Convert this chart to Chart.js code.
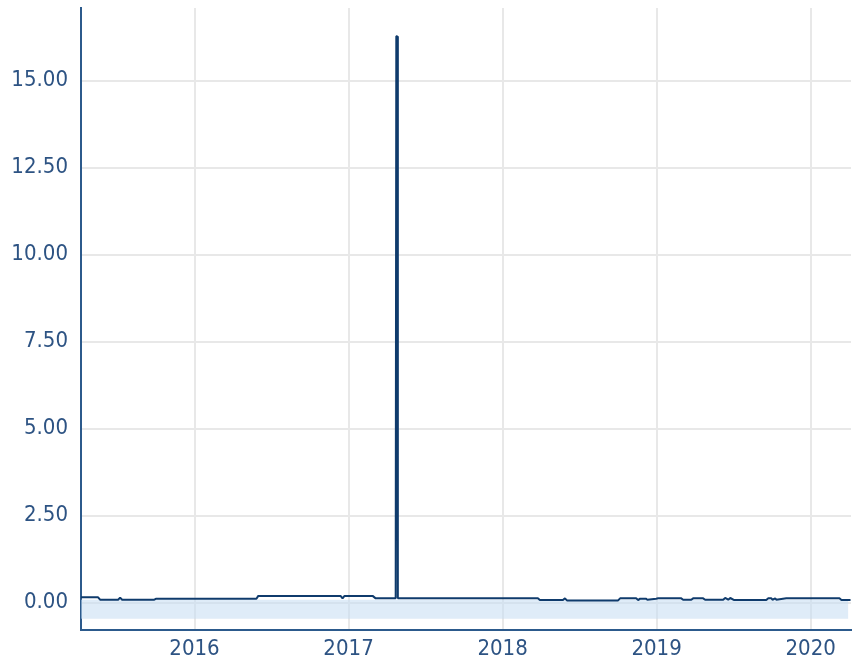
<!DOCTYPE html>
<html>
<head>
<meta charset="utf-8">
<script src="https://cdn.jsdelivr.net/npm/chart.js@4.4.1/dist/chart.umd.min.js"></script>
<style>
  html, body { margin: 0; padding: 0; background: #ffffff; }
  #wrap { width: 854px; height: 663px; position: relative; }
</style>
</head>
<body>
<div id="wrap"><canvas id="chart"></canvas></div>
<script>
// decimal years
const dates = [
  2015.263, 2015.374, 2015.387, 2015.504, 2015.517, 2015.530, 2015.739, 2015.752,
  2016.402, 2016.414, 2016.948, 2016.961, 2016.974, 2017.156, 2017.176, 2017.306,
  2017.310, 2017.316, 2017.320, 2018.229, 2018.242, 2018.392, 2018.405, 2018.418,
  2018.750, 2018.763, 2018.867, 2018.880, 2018.893, 2018.930, 2018.940, 2018.997,
  2019.010, 2019.160, 2019.172, 2019.225, 2019.237, 2019.302, 2019.315, 2019.432,
  2019.445, 2019.465, 2019.478, 2019.504, 2019.712, 2019.725, 2019.745, 2019.752,
  2019.770, 2019.777, 2019.842, 2020.187, 2020.200, 2020.259
];
const values = [
  0.15, 0.15, 0.08, 0.08, 0.14, 0.08, 0.08, 0.11,
  0.11, 0.19, 0.19, 0.12, 0.19, 0.19, 0.12, 0.12,
  16.28, 16.28, 0.12, 0.12, 0.07, 0.07, 0.12, 0.06,
  0.06, 0.12, 0.12, 0.07, 0.11, 0.11, 0.08, 0.11,
  0.12, 0.12, 0.08, 0.08, 0.12, 0.12, 0.08, 0.08,
  0.13, 0.08, 0.13, 0.07, 0.07, 0.12, 0.12, 0.08,
  0.12, 0.08, 0.12, 0.12, 0.07, 0.07
];

const yearTicks = [2016, 2017, 2018, 2019, 2020];
const valueTicks = [0, 2.5, 5, 7.5, 10, 12.5, 15];

const xMin = 2015.263, xMax = 2020.262;
const yMin = -0.79, yMax = 17.09;

// light band under the zero line
const bandStart = 2015.263, bandEnd = 2020.245;
const bandTop = 0.08, bandBottom = -0.47;

const labelColor = '#2d5383';
const axisColor = '#2c5a8c';
const gridColor = '#e8e8e8';
const fontFamily = "'DejaVu Sans Condensed', 'DejaVu Sans', sans-serif";

const ctx = document.getElementById('chart').getContext('2d');
new Chart(ctx, {
  type: 'line',
  data: {
    datasets: [
      {
        data: dates.map((d, i) => ({ x: d, y: values[i] })),
        borderColor: '#0f3b6c',
        borderWidth: 2,
        pointRadius: 0,
        tension: 0,
        fill: false,
        borderJoinStyle: 'bevel'
      },
      {
        data: [{ x: bandStart, y: bandTop }, { x: bandEnd, y: bandTop }],
        borderWidth: 0,
        borderColor: 'rgba(0,0,0,0)',
        backgroundColor: 'rgba(196, 220, 242, 0.55)',
        pointRadius: 0,
        fill: { value: bandBottom }
      }
    ]
  },
  options: {
    responsive: true,
    maintainAspectRatio: false,
    animation: false,
    layout: { padding: { top: 8, right: 3, bottom: 0, left: 0 } },
    plugins: {
      legend: { display: false },
      tooltip: { enabled: false }
    },
    scales: {
      x: {
        type: 'linear',
        min: xMin,
        max: xMax,
        afterBuildTicks: (scale) => { scale.ticks = yearTicks.map(v => ({ value: v })); },
        afterFit: (scale) => {
          scale.height = 33;
          scale.paddingLeft = 0;
          scale.paddingRight = 0;
        },
        grid: { color: gridColor, lineWidth: 2, drawTicks: false },
        border: { color: axisColor, width: 2 },
        ticks: {
          color: labelColor,
          padding: 6,
          maxRotation: 0,
          autoSkip: false,
          font: { family: fontFamily, size: 22 },
          callback: (v) => String(v)
        }
      },
      y: {
        type: 'linear',
        min: yMin,
        max: yMax,
        afterBuildTicks: (scale) => { scale.ticks = valueTicks.map(v => ({ value: v })); },
        afterFit: (scale) => {
          scale.width = 81;
          scale.paddingTop = 0;
          scale.paddingBottom = 0;
        },
        grid: { color: gridColor, lineWidth: 2, drawTicks: false },
        border: { color: axisColor, width: 2 },
        ticks: {
          color: labelColor,
          padding: 13,
          autoSkip: false,
          font: { family: fontFamily, size: 22 },
          callback: (v) => Number(v).toFixed(2)
        }
      }
    }
  }
});
</script>
</body>
</html>
